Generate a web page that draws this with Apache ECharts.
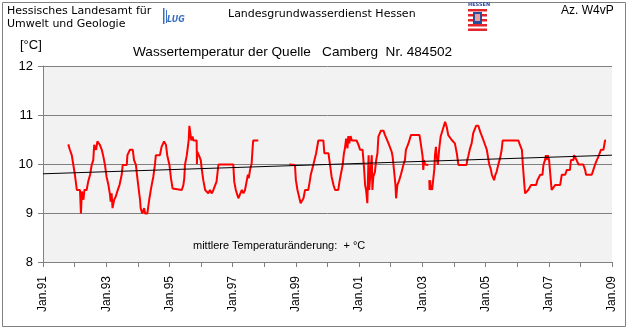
<!DOCTYPE html>
<html><head><meta charset="utf-8">
<script src="https://cdn.jsdelivr.net/npm/echarts@6/dist/echarts.min.js"></script>
<style>html,body{margin:0;padding:0;background:#fff}#c{width:629px;height:329px}</style>
</head><body><div id="c"></div>
<script>
// decimal year of each monthly-ish reading
const years = [
1991.80,1991.85,1991.89,1991.91,1991.94,1991.96,1992.01,1992.07,1992.17,1992.20,1992.23,1992.28,1992.31,1992.38,1992.43,1992.49,1992.54,1992.59,1992.62,1992.68,1992.72,1992.75,1992.80,1992.86,1992.91,1992.96,
1993.01,1993.07,1993.12,1993.14,1993.17,1993.20,1993.25,1993.30,1993.35,1993.42,1993.46,1993.49,1993.52,1993.65,1993.67,1993.73,1993.75,1993.84,1993.88,1993.94,1993.98,
1994.03,1994.07,1994.09,1994.14,1994.20,1994.23,1994.30,1994.33,1994.36,1994.41,1994.45,1994.49,1994.54,1994.57,1994.70,1994.75,1994.83,1994.89,1994.93,
1995.00,1995.05,1995.10,1995.39,1995.44,1995.47,1995.49,1995.55,1995.58,1995.61,1995.63,1995.67,1995.69,1995.73,1995.76,1995.86,1995.87,1995.88,1995.91,1995.95,1995.99,
1996.02,1996.07,1996.13,1996.18,1996.23,1996.28,1996.34,1996.39,1996.44,1996.49,1996.55,
1997.02,1997.05,1997.10,1997.13,1997.18,1997.23,1997.29,1997.34,1997.39,1997.44,1997.48,1997.51,1997.55,1997.60,1997.63,1997.65,1997.81,
1998.30,
1998.79,1998.97,1999.00,1999.05,1999.11,1999.15,1999.18,1999.24,1999.29,1999.39,1999.43,1999.47,1999.50,1999.55,1999.60,1999.64,1999.68,1999.71,1999.87,1999.90,
2000.03,2000.08,2000.13,2000.19,2000.24,2000.29,2000.34,2000.38,2000.42,2000.45,2000.48,2000.52,2000.55,2000.59,2000.63,2000.66,2000.69,2000.73,2000.77,2000.92,2000.98,
2001.03,2001.11,2001.16,2001.19,2001.22,2001.26,2001.30,2001.32,2001.35,2001.37,2001.40,2001.42,2001.45,2001.50,2001.54,2001.58,2001.61,2001.66,2001.69,2001.77,2001.82,2001.87,2001.93,2001.98,
2002.03,2002.06,2002.10,2002.15,2002.17,2002.21,2002.27,2002.32,2002.36,2002.40,2002.45,2002.48,2002.53,2002.56,2002.61,2002.64,2002.91,2002.95,2002.98,
2003.01,2003.03,2003.05,2003.09,2003.19,2003.20,2003.22,2003.23,2003.25,2003.26,2003.29,2003.31,2003.35,2003.38,2003.40,2003.43,2003.45,2003.49,2003.54,2003.58,2003.64,2003.72,2003.77,2003.82,2003.88,2003.93,2003.98,
2004.03,2004.09,2004.12,2004.14,2004.40,2004.42,2004.45,2004.51,2004.56,2004.61,2004.67,2004.70,2004.77,2004.83,2004.88,2004.93,2004.98,
2005.04,2005.09,2005.12,2005.16,2005.20,2005.27,2005.31,2005.35,2005.40,2005.46,2005.51,2005.54,
2006.04,2006.07,2006.12,2006.15,2006.18,2006.22,2006.25,2006.30,2006.35,2006.40,2006.44,2006.60,2006.64,2006.70,2006.73,2006.80,2006.83,2006.88,2006.91,2006.93,2006.97,
2007.01,2007.06,2007.09,2007.15,2007.20,2007.36,2007.41,2007.52,2007.57,2007.67,2007.70,2007.78,2007.80,2007.86,2007.88,2007.94,
2008.09,2008.15,2008.18,2008.36,2008.41,2008.46,2008.52,2008.57,2008.62,2008.65,2008.73,2008.78,2008.81
];
const temps = [
10.40,10.29,10.30,10.18,10.22,9.98,9.78,9.47,9.47,8.99,9.44,9.27,9.47,9.47,9.64,9.78,9.98,10.08,10.39,10.29,10.46,10.42,10.39,10.29,10.15,9.98,
9.74,9.57,9.37,9.23,9.40,9.10,9.27,9.33,9.44,9.57,9.61,9.78,9.98,9.98,10.18,10.18,10.29,10.29,10.08,9.98,9.74,
9.47,9.27,9.10,8.99,9.10,8.99,8.99,9.13,9.27,9.47,9.61,9.74,9.98,10.18,10.18,10.35,10.46,10.39,10.18,
9.98,9.70,9.50,9.47,9.57,9.71,9.98,10.18,10.18,10.49,10.78,10.59,10.48,10.56,10.48,10.48,10.00,10.25,10.25,10.15,10.08,
9.91,9.67,9.47,9.47,9.40,9.47,9.40,9.47,9.47,9.64,9.99,
9.99,9.64,9.47,9.44,9.30,9.30,9.47,9.40,9.47,9.64,9.78,9.71,9.88,10.01,10.32,10.48,10.48,
null,
9.99,9.98,9.67,9.47,9.47,9.20,9.18,9.30,9.47,9.47,9.61,9.78,9.78,9.98,10.01,10.22,10.22,10.48,10.48,10.22,
10.22,9.98,9.74,9.57,9.47,9.44,9.47,9.64,9.78,9.78,9.98,10.22,10.32,10.52,10.32,10.57,10.42,10.57,10.48,10.48,10.39,
10.29,10.29,9.88,9.57,9.47,9.20,10.18,9.47,9.47,9.91,10.18,9.47,9.74,9.84,10.08,10.22,10.56,10.56,10.68,10.68,10.59,10.56,10.42,10.42,
10.25,10.15,9.90,9.57,9.30,9.57,9.67,9.78,9.88,9.98,10.08,10.29,10.32,10.42,10.42,10.59,10.59,10.42,10.39,
10.15,9.88,10.08,9.99,9.98,null,9.67,9.47,9.67,9.47,9.57,9.47,9.47,9.90,10.18,10.35,10.18,9.98,10.35,10.56,10.69,10.86,10.76,10.59,10.59,10.49,10.49,
10.42,10.22,10.08,9.98,9.98,10.08,10.15,10.32,10.42,10.63,10.66,10.78,10.78,10.66,10.66,10.49,10.49,
10.29,10.25,9.98,9.91,9.78,9.67,9.78,9.84,9.98,10.12,10.29,10.48,
10.48,10.42,10.39,10.29,9.98,9.64,9.40,9.38,9.47,9.47,9.57,9.57,9.67,9.67,9.78,9.78,9.98,10.08,10.18,10.08,10.18,
10.08,10.08,9.47,9.47,9.57,9.57,9.78,9.78,9.88,9.88,10.08,10.08,10.18,10.18,10.08,9.99,
9.99,9.88,9.78,9.78,9.88,9.98,10.08,10.15,10.18,10.29,10.29,10.48,10.48
];
const trendYears = [1991, 2009];
const trendTemps = [9.80, 10.18];
const xTickLabels = ['Jan.91','Jan.93','Jan.95','Jan.97','Jan.99','Jan.01','Jan.03','Jan.05','Jan.07','Jan.09'];
const yTickValues = [8, 9, 10, 11, 12];

const seriesData = years.map((y, i) => [y, temps[i] === null ? '-' : temps[i]]);
const trendData = trendYears.map((y, i) => [y, trendTemps[i]]);

const chart = echarts.init(document.getElementById('c'), null, {renderer: 'canvas'});
const gray = '#808080';
chart.setOption({
  animation: false,
  backgroundColor: '#ffffff',
  grid: {left: 43, right: 17, top: 66, bottom: 67, show: true, backgroundColor: '#f2f2f2', borderWidth: 0},
  xAxis: {
    type: 'value', min: 1991, max: 2009, interval: 1,
    axisLine: {show: true, lineStyle: {color: gray, width: 1}},
    axisTick: {show: true, length: 5, lineStyle: {color: gray}},
    splitLine: {show: false},
    axisLabel: {
      rotate: 90, margin: 14, color: '#000', fontFamily: 'Liberation Sans', fontSize: 12,
      formatter: v => { const k = Math.round(v - 1991); return k % 2 === 0 ? xTickLabels[k / 2] : ''; }
    }
  },
  yAxis: {
    type: 'value', min: yTickValues[0], max: yTickValues[yTickValues.length - 1], interval: 1,
    axisLine: {show: true, lineStyle: {color: gray, width: 1}},
    axisTick: {show: true, length: 5, lineStyle: {color: gray}},
    splitLine: {show: true, lineStyle: {color: gray, width: 1}},
    axisLabel: {margin: 10, color: '#000', fontFamily: 'Liberation Sans', fontSize: 13}
  },
  series: [
    {type: 'line', data: seriesData, showSymbol: false, symbol: 'none', connectNulls: false,
     lineStyle: {color: '#ff0000', width: 2}, z: 2},
    {type: 'line', data: trendData, showSymbol: false, symbol: 'none',
     lineStyle: {color: '#000', width: 1}, z: 3}
  ],
  graphic: [
    {type: 'rect', shape: {x: 2.5, y: 2.5, width: 623, height: 324}, style: {fill: 'none', stroke: gray, lineWidth: 1}, silent: true},
    {type: 'text', left: 7, top: 6, style: {text: 'Hessisches Landesamt für', font: '11px "DejaVu Sans"', fill: '#000'}},
    {type: 'text', left: 7, top: 19, style: {text: 'Umwelt und Geologie', font: '11px "DejaVu Sans"', fill: '#000'}},
    {type: 'text', left: 228, top: 9, style: {text: 'Landesgrundwasserdienst Hessen', font: '11px "DejaVu Sans"', fill: '#000'}},
    {type: 'text', left: 561, top: 5, style: {text: 'Az. W4vP', font: '12px "Liberation Sans"', fill: '#000'}},
    // HLUG logo
    {type: 'group', left: 163, top: 8, children: [
      {type: 'rect', shape: {x: 2, y: 0, width: 1.5, height: 16}, style: {fill: '#3a6fc0'}},
      {type: 'rect', shape: {x: 5, y: 2, width: 1, height: 13}, style: {fill: '#3a6fc0'}},
      {type: 'text', x: 6, y: 8, style: {text: 'LUG', font: 'italic bold 8px "DejaVu Sans"', fill: '#3a6fc0'}}
    ]},
    // Hessen logo
    {type: 'group', left: 468, top: 2, children: [
      {type: 'text', x: 0, y: 0, style: {text: 'HESSEN', font: 'bold 5px "DejaVu Sans"', fill: '#2a4d9b'}},
      {type: 'rect', shape: {x: 0, y: 7, width: 19, height: 2.5}, style: {fill: '#e2262b'}},
      {type: 'rect', shape: {x: 0, y: 12, width: 19, height: 2.5}, style: {fill: '#e2262b'}},
      {type: 'rect', shape: {x: 0, y: 17, width: 19, height: 2.5}, style: {fill: '#e2262b'}},
      {type: 'rect', shape: {x: 0, y: 22, width: 19, height: 2.5}, style: {fill: '#e2262b'}},
      {type: 'rect', shape: {x: 0, y: 26.5, width: 19, height: 2.5}, style: {fill: '#e2262b'}},
      {type: 'rect', shape: {x: 5, y: 10, width: 9, height: 12}, style: {fill: '#2a4d9b'}},
      {type: 'rect', shape: {x: 7, y: 12, width: 5, height: 7}, style: {fill: '#e8a0a0'}}
    ]},
    {type: 'text', left: 20, top: 39, style: {text: '[°C]', font: '13px "Liberation Sans"', fill: '#000'}},
    {type: 'text', left: 133, top: 45, style: {text: 'Wassertemperatur der Quelle   Camberg  Nr. 484502', font: '13.6px "Liberation Sans"', fill: '#000'}},
    {type: 'text', left: 193, top: 240, style: {text: 'mittlere Temperaturänderung:  + °C', font: '11px "Liberation Sans"', fill: '#000'}}
  ]
});
</script>
</body></html>
